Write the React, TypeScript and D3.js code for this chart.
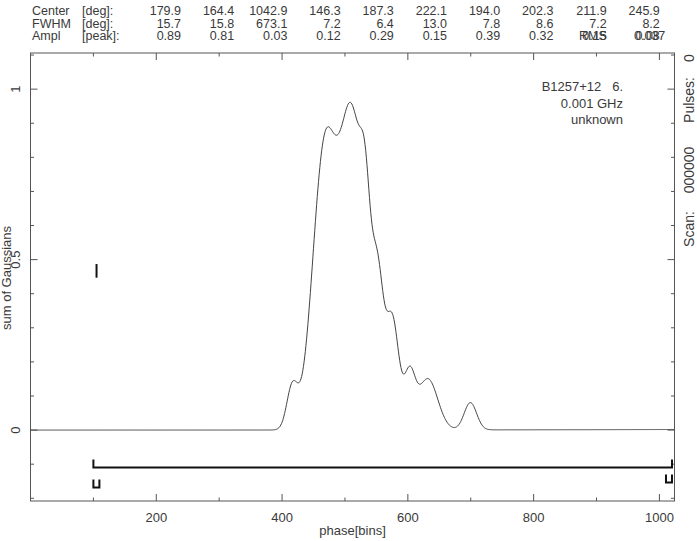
import React from "react";
import * as d3 from "d3";

const centersDeg = [179.9, 164.4, 1042.9, 146.3, 187.3, 222.1, 194.0, 202.3, 211.9, 245.9];
const fwhmDeg = [15.7, 15.8, 673.1, 7.2, 6.4, 13.0, 7.8, 8.6, 7.2, 8.2];
const amplPeak = [0.89, 0.81, 0.03, 0.12, 0.29, 0.15, 0.39, 0.32, 0.15, 0.08];
const centerLabels = ["179.9", "164.4", "1042.9", "146.3", "187.3", "222.1", "194.0", "202.3", "211.9", "245.9"];
const fwhmLabels = ["15.7", "15.8", "673.1", "7.2", "6.4", "13.0", "7.8", "8.6", "7.2", "8.2"];
const amplLabels = ["0.89", "0.81", "0.03", "0.12", "0.29", "0.15", "0.39", "0.32", "0.15", "0.08"];
const xTicksMajor = [200, 400, 600, 800, 1000];
const yTicksMajor = [0, 0.5, 1];
const yTickLabels = ["0", "0.5", "1"];
const nBins = 1024;
const bracketBins = [100, 1020];
const bracketLevel = -0.11;
const markerBin = 105;
const markerRange = [0.447, 0.487];
const infoLines = ["B1257+12   6.", "0.001 GHz", "unknown"];

const W = 697, H = 541;
const x = d3.scaleLinear().domain([0, nBins]).range([30.5, 674.5]);
const y = d3.scaleLinear().domain([-0.208, 1.106]).range([501, 53]);

const binIdx = d3.range(0, nBins + 1);
const model = binIdx.map((b) => {
  const deg = (b * 360) / nBins;
  let s = 0;
  for (let i = 0; i < centersDeg.length; i++) {
    const sig = fwhmDeg[i] / 2.3548;
    const d = deg - centersDeg[i];
    s += amplPeak[i] * Math.exp(-0.5 * (d / sig) * (d / sig));
  }
  return { b, v: s };
});

const line = d3.line<{ b: number; v: number }>().x((d) => x(d.b)).y((d) => y(d.v));

const FONT = "'Liberation Sans', Arial, sans-serif";
const TXT = "#3a3a3a";
const AX = "#555";

export default function App() {
  const [x0, x1] = x.range();
  const [yb, yt] = y.range();
  const xMinor = d3.range(100, 1024, 100);
  const yMinor = d3.range(-0.2, 1.11, 0.1).map((v) => Math.round(v * 10) / 10);
  const colRight = (i: number) => 181 + 53.2 * i;
  const U = (bx: number, top: number, w: number, h: number) =>
    `M${bx},${top}V${top + h}H${bx + w}V${top}`;
  return (
    <svg width={W} height={H} style={{ position: "absolute", left: 0, top: 0, background: "#fff" }} fontFamily={FONT}>
      <rect x={0} y={0} width={W} height={H} fill="#fff" />
      {/* header */}
      <g fill={TXT} fontSize={12.5}>
        {[
          ["Center", "[deg]:", centerLabels, 15],
          ["FWHM", "[deg]:", fwhmLabels, 27.5],
          ["Ampl", "[peak]:", amplLabels, 40],
        ].map(([name, unit, labels, by]: any, r) => (
          <g key={r}>
            <text x={32} y={by}>{name}</text>
            <text x={82} y={by}>{unit}</text>
            {labels.map((l: string, i: number) => (
              <text key={i} x={colRight(i)} y={by} textAnchor="end">{l}</text>
            ))}
          </g>
        ))}
        <text x={579} y={40}>RMS</text>
        <text x={634} y={40}>0.037</text>
      </g>
      {/* frame */}
      <rect x={x0} y={yt} width={x1 - x0} height={yb - yt} fill="none" stroke={AX} strokeWidth={1} />
      {/* ticks */}
      <g stroke={AX} strokeWidth={1}>
        {xMinor.map((t) => {
          const major = t % 200 === 0;
          const len = major ? 7 : 3.5;
          return (
            <g key={t}>
              <line x1={x(t)} x2={x(t)} y1={yb} y2={yb - len} />
              <line x1={x(t)} x2={x(t)} y1={yt} y2={yt + len} />
            </g>
          );
        })}
        {yMinor.map((t) => {
          const major = yTicksMajor.includes(t);
          const len = major ? 7 : 3.5;
          return (
            <g key={t}>
              <line x1={x0} x2={x0 + len} y1={y(t)} y2={y(t)} />
              <line x1={x1} x2={x1 - len} y1={y(t)} y2={y(t)} />
            </g>
          );
        })}
      </g>
      {/* x tick labels */}
      <g fill={TXT} fontSize={13} textAnchor="middle">
        {xTicksMajor.map((t) => (
          <text key={t} x={x(t)} y={522}>{t}</text>
        ))}
        <text x={(x0 + x1) / 2} y={535}>phase[bins]</text>
      </g>
      {/* y tick labels rotated */}
      <g fill={TXT} fontSize={13} textAnchor="middle">
        {yTicksMajor.map((t, i) => (
          <text key={t} transform={`translate(20,${y(t)}) rotate(-90)`} y={0}>{yTickLabels[i]}</text>
        ))}
        <text transform={`translate(11,${278}) rotate(-90)`}>sum of Gaussians</text>
      </g>
      {/* right rotated info */}
      <g fill={TXT} fontSize={14} textAnchor="middle">
        <text transform={`translate(694,58) rotate(-90)`}>0</text>
        <text transform={`translate(694,100) rotate(-90)`}>Pulses:</text>
        <text transform={`translate(694,170) rotate(-90)`}>000000</text>
        <text transform={`translate(694,229) rotate(-90)`}>Scan:</text>
      </g>
      {/* info text */}
      <g fill={TXT} fontSize={13} textAnchor="end">
        {infoLines.map((l, i) => (
          <text key={i} x={623} y={91 + 16.5 * i} style={{ whiteSpace: "pre" }}>{l}</text>
        ))}
      </g>
      {/* curve */}
      <path d={line(model) || ""} fill="none" stroke="#444" strokeWidth={1} />
      {/* markers */}
      <g stroke="#111" strokeWidth={2} fill="none">
        <path d={`M${x(bracketBins[0])},${y(bracketLevel) - 8}V${y(bracketLevel)}H${x(bracketBins[1])}V${y(bracketLevel) - 8}`} />
        <path d={U(x(bracketBins[0]), y(bracketLevel) + 12, 6, 8)} />
        <path d={U(x(bracketBins[1]) - 6, y(bracketLevel) + 7, 6, 8)} />
        <line x1={x(markerBin)} x2={x(markerBin)} y1={y(markerRange[0])} y2={y(markerRange[1])} />
      </g>
    </svg>
  );
}
